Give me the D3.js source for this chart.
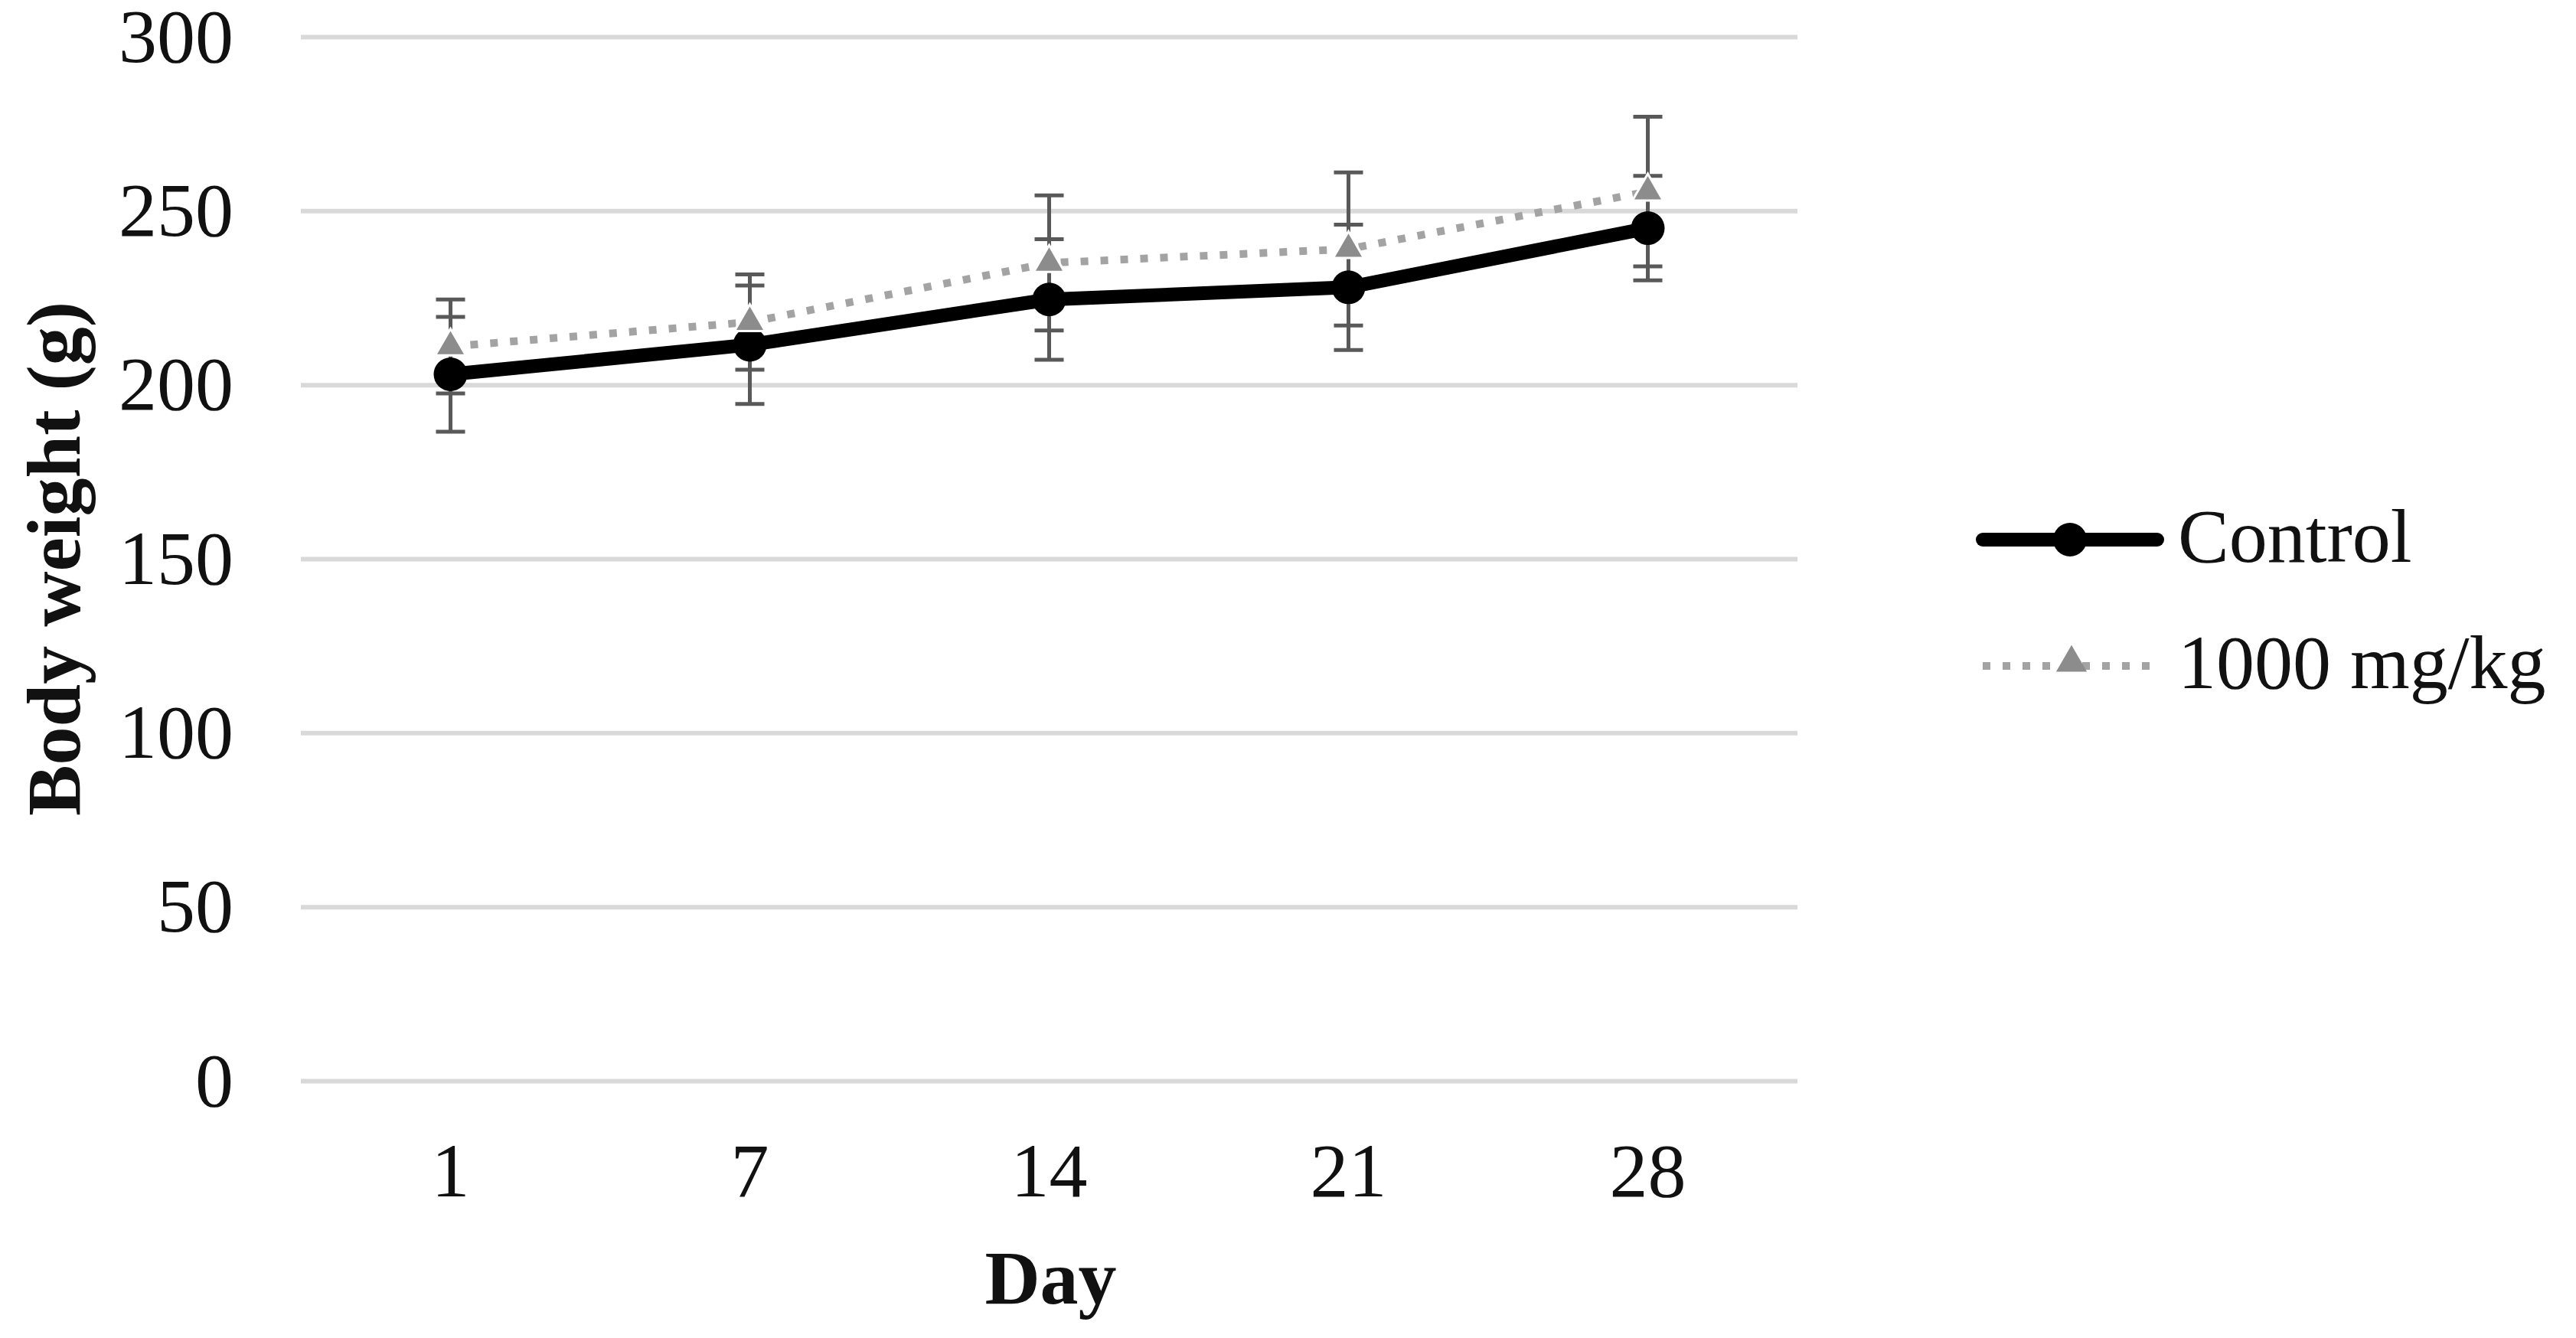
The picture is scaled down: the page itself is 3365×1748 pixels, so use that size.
<!DOCTYPE html>
<html>
<head>
<meta charset="utf-8">
<script src="https://cdn.jsdelivr.net/npm/d3@7"></script>
<style>
  body { margin: 0; background: #fff; }
  text { font-family: "Liberation Serif", "Times New Roman", serif; }
</style>
</head>
<body>
<div id="body"></div>
<script>
// values
var days = ["1", "7", "14", "21", "28"];
var seriesNames = ["Control", "1000 mg/kg"];
var control = [203, 211.5, 224.5, 228, 245];
var controlErr = [16.5, 17, 17.3, 18, 15];
var dose = [211, 218, 235, 239, 255.5];
var doseErr = [13.5, 13.7, 19.4, 22, 21.5];
var yTicks = [0, 50, 100, 150, 200, 250, 300];

window.onload = function(){
    var W = 3365, H = 1748;
    var left = 393, right = 2348, top = 48, bottom = 1412;

    var svg = d3.select("#body").append("svg")
        .attr("width", W).attr("height", H);
    svg.append("rect").attr("width", W).attr("height", H).attr("fill", "#fff");

    var x = d3.scaleBand().domain(days).range([left, right]);
    var y = d3.scaleLinear().domain([0, 300]).range([bottom, top]);
    var cx = function(d){ return x(d) + x.bandwidth() / 2; };

    // gridlines + y labels
    var ya = svg.append("g")
        .attr("transform", "translate(" + left + ",0)")
        .call(d3.axisLeft(y).tickValues(yTicks)
            .tickSizeInner(-(right - left)).tickSizeOuter(0).tickPadding(88));
    ya.select(".domain").remove();
    ya.selectAll("line").attr("stroke", "#d9d9d9").attr("stroke-width", 6);
    ya.selectAll("text").attr("font-size", 100).attr("fill", "#111")
        .style("font-family", "Liberation Serif");

    // x labels
    var xa = svg.append("g")
        .attr("transform", "translate(0," + bottom + ")")
        .call(d3.axisBottom(x).tickSize(0).tickPadding(80));
    xa.select(".domain").remove();
    xa.selectAll("text").attr("font-size", 100).attr("fill", "#111")
        .style("font-family", "Liberation Serif");

    // axis titles
    svg.append("text")
        .attr("x", (left + right) / 2 + 2).attr("y", 1703)
        .attr("text-anchor", "middle").attr("font-size", 100)
        .attr("font-weight", "bold").attr("fill", "#111")
        .text("Day");
    svg.append("text")
        .attr("transform", "translate(104," + (top + bottom) / 2 + ") rotate(-90)")
        .attr("text-anchor", "middle").attr("font-size", 100)
        .attr("font-weight", "bold").attr("fill", "#111")
        .text("Body weight  (g)");

    var series = [
        {vals: control, err: controlErr},
        {vals: dose, err: doseErr}
    ];

    // error bars
    series.forEach(function(s){
        var g = svg.append("g").attr("stroke", "#595959").attr("stroke-width", 5);
        days.forEach(function(d, i){
            var lo = y(s.vals[i] - s.err[i]), hi = y(s.vals[i] + s.err[i]);
            g.append("line").attr("x1", cx(d)).attr("x2", cx(d)).attr("y1", lo).attr("y2", hi);
            g.append("line").attr("x1", cx(d) - 19).attr("x2", cx(d) + 19).attr("y1", lo).attr("y2", lo);
            g.append("line").attr("x1", cx(d) - 19).attr("x2", cx(d) + 19).attr("y1", hi).attr("y2", hi);
        });
    });

    var line = d3.line()
        .x(function(d, i){ return cx(days[i]); })
        .y(function(d){ return y(d); });

    // control
    svg.append("path").datum(control).attr("d", line)
        .attr("fill", "none").attr("stroke", "#000").attr("stroke-width", 18)
        .attr("stroke-linejoin", "round").attr("stroke-linecap", "round");
    svg.selectAll("circle.ctl").data(control).enter().append("circle")
        .attr("class", "ctl")
        .attr("cx", function(d, i){ return cx(days[i]); })
        .attr("cy", function(d){ return y(d); })
        .attr("r", 22).attr("fill", "#000");

    // 1000 mg/kg
    var tri = d3.symbol().type(d3.symbolTriangle).size(700);
    svg.append("path").datum(dose).attr("d", line)
        .attr("fill", "none").attr("stroke", "#a3a3a3").attr("stroke-width", 10)
        .attr("stroke-dasharray", "10,16");
    svg.selectAll("path.tri").data(dose).enter().append("path")
        .attr("class", "tri")
        .attr("d", tri)
        .attr("transform", function(d, i){ return "translate(" + cx(days[i]) + "," + y(d) + ")"; })
        .attr("fill", "#8c8c8c").attr("stroke", "#fff").attr("stroke-width", 3);

    // legend
    var legY = [705, 870];
    var lg = svg.append("g");
    lg.append("line").attr("x1", 2590).attr("x2", 2818).attr("y1", legY[0]).attr("y2", legY[0])
        .attr("stroke", "#000").attr("stroke-width", 18).attr("stroke-linecap", "round");
    lg.append("circle").attr("cx", 2704).attr("cy", legY[0]).attr("r", 22).attr("fill", "#000");
    lg.append("line").attr("x1", 2590).attr("x2", 2818).attr("y1", legY[1]).attr("y2", legY[1])
        .attr("stroke", "#a3a3a3").attr("stroke-width", 10).attr("stroke-dasharray", "10,16");
    lg.append("path").attr("d", tri)
        .attr("transform", "translate(2706," + (legY[1] - 4) + ")")
        .attr("fill", "#8c8c8c");
    lg.selectAll("text").data(seriesNames).enter().append("text")
        .attr("x", 2845)
        .attr("y", function(d, i){ return legY[i] + 29; })
        .attr("font-size", 100).attr("fill", "#111")
        .text(function(d){ return d; });
};
</script>
</body>
</html>
